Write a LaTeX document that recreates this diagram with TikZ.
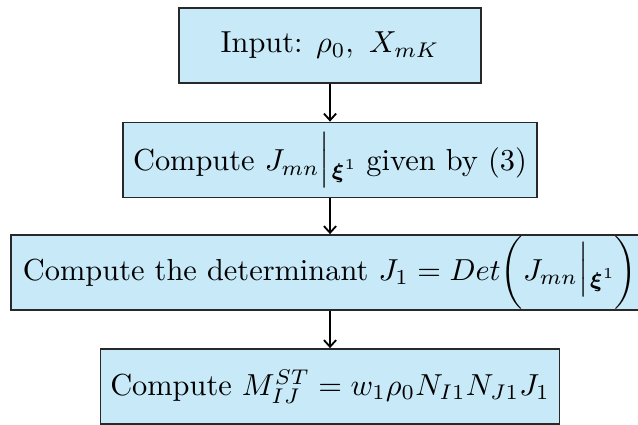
\documentclass[tikz,border=0pt]{standalone}
\usepackage{amsmath}
\usetikzlibrary{arrows.meta}
\definecolor{boxfill}{RGB}{199,233,248}
\definecolor{boxdraw}{RGB}{40,40,40}
\newcommand{\evalat}[1]{\mathclose{\raisebox{1pt}{$\Big|$}}\kern0.6pt\raisebox{-2.5pt}{$\scriptstyle #1$}}
\tikzset{
  flowbox/.style={draw=boxdraw, fill=boxfill, line width=0.55pt, minimum height=24.7pt, inner sep=0pt, anchor=center, font=\normalsize},
  flowarrow/.style={-{Straight Barb[length=2.2pt,width=4pt]}, line width=0.6pt, black}
}
\begin{document}
\begin{tikzpicture}[x=0.329pt, y=-0.329pt]
  \useasboundingbox (0,0) rectangle (638,424);
  \node[flowbox, minimum width=99.4pt] (b1) at (330,45.5) {Input: $\rho_0,\ X_{mK}$};
  \node[flowbox, minimum width=136.2pt] (b2) at (330,160) {Compute $J_{mn}\evalat{\boldsymbol{\xi}^1}$ given by (3)};
  \node[flowbox, minimum width=209.9pt] (b3) at (330,272.5) {Compute the determinant $J_1 = Det\biggl(J_{mn}\evalat{\boldsymbol{\xi}^1}\biggr)$};
  \node[flowbox, minimum width=151.0pt] (b4) at (330,386.5) {Compute $M_{IJ}^{ST} = w_1\rho_0 N_{I1}N_{J1}J_1$};
  \draw[flowarrow] (b1) -- (b2);
  \draw[flowarrow] (b2) -- (b3);
  \draw[flowarrow] (b3) -- (b4);
\end{tikzpicture}
\end{document}
